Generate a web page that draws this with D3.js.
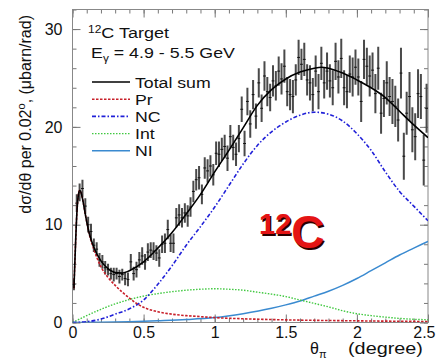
<!DOCTYPE html>
<html>
<head>
<meta charset="utf-8">
<script src="https://cdnjs.cloudflare.com/ajax/libs/d3/7.8.5/d3.min.js"></script>
<style>
    body { margin: 0; background: #fff; }
    svg { display: block; font-family: "Liberation Sans", Arial, Helvetica, sans-serif; }
    .axis path { display: none; }
    .axis line { stroke: #777; }
    .axis text { font-size: 16px; fill: #111; font-family: "Liberation Sans", Arial, sans-serif; }
</style>
</head>
<body>
<svg id="chart" width="436" height="361"></svg>
<script>
// data, 0.02 degree bins starting at 0
const binWidth = 0.02;
const counts = [
    3.9, 12.2, 13.3, 13.7, 11.9, 10.0, 9.3, 7.9, 7.5, 6.4,
    6.2, 5.6, 5.4, 5.0, 4.9, 5.0, 4.7, 4.9, 4.5, 4.4,
    6.2, 5.0, 5.4, 6.4, 6.8, 6.2, 7.2, 7.4, 7.3, 7.1,
    6.6, 8.0, 8.1, 9.5, 8.1, 8.1, 10.7, 11.0, 10.7, 11.2,
    10.9, 11.8, 13.4, 14.6, 14.8, 13.1, 15.8, 15.5, 16.0, 15.1,
    17.3, 17.2, 17.7, 18.0, 16.8, 19.0, 17.9, 17.2, 18.8, 21.8,
    18.3, 22.6, 20.3, 23.3, 21.1, 24.5, 21.9, 25.2, 23.6, 23.0,
    24.7, 24.2, 25.7, 24.9, 26.2, 23.6, 23.3, 23.1, 24.8, 27.1,
    26.4, 26.9, 24.8, 24.5, 23.3, 25.7, 23.6, 26.5, 24.5, 25.7,
    24.7, 24.0, 26.7, 25.1, 27.0, 24.0, 23.6, 25.4, 25.1, 26.1,
    25.1, 22.6, 26.9, 26.2, 25.2, 25.8, 23.4, 26.0, 21.4, 22.9,
    24.5, 23.1, 22.6, 22.1, 20.7, 25.5, 17.0, 21.4, 23.1, 19.7,
    19.0, 23.4, 23.1, 16.6, 21.9
];
const errors = [
    0.6, 0.9, 0.9, 0.9, 0.8, 0.8, 0.8, 0.7, 0.7, 0.7,
    0.7, 0.7, 0.6, 0.6, 0.7, 0.6, 0.7, 0.6, 0.7, 0.7,
    0.8, 0.7, 0.8, 0.8, 0.9, 0.8, 0.9, 0.8, 0.9, 0.8,
    0.9, 0.9, 1.0, 1.0, 0.9, 1.0, 1.0, 1.1, 1.0, 1.0,
    1.1, 1.0, 1.1, 1.1, 1.2, 1.0, 1.1, 1.2, 1.1, 1.1,
    1.2, 1.3, 1.2, 1.2, 1.3, 1.2, 1.3, 1.2, 1.4, 1.3,
    1.3, 1.4, 1.4, 1.5, 1.3, 1.5, 1.4, 1.5, 1.5, 1.4,
    1.6, 1.5, 1.5, 1.6, 1.7, 1.5, 1.6, 1.7, 1.6, 1.8,
    1.6, 1.7, 1.6, 1.8, 1.7, 1.6, 1.8, 1.7, 1.6, 1.9,
    1.7, 1.8, 1.9, 1.7, 2.0, 1.8, 1.7, 1.9, 2.0, 1.8,
    1.9, 2.1, 2.0, 1.9, 2.1, 1.8, 2.0, 2.2, 2.1, 1.9,
    2.2, 2.0, 2.3, 2.1, 2.2, 2.6, 2.4, 2.2, 2.5, 2.3,
    2.4, 2.5, 2.3, 2.6, 2.5
];

// model curves [theta, value]
const totalSum = [[0.01,3.5],[0.02,7.5],[0.03,11.0],[0.04,12.9],[0.05,13.5],[0.06,13.3],[0.07,12.7],[0.08,11.9],
    [0.1,10.3],[0.12,9.0],[0.15,7.7],[0.2,6.3],[0.25,5.5],[0.3,5.1],[0.35,5.05],[0.4,5.3],[0.5,6.2],[0.6,7.6],
    [0.7,9.2],[0.8,11.1],[0.9,13.1],[1.0,15.4],[1.1,17.6],[1.2,19.9],[1.3,22.2],[1.4,23.8],[1.5,24.9],[1.6,25.6],
    [1.7,26.0],[1.75,26.1],[1.8,26.0],[1.9,25.5],[2.0,24.8],[2.1,24.0],[2.2,23.0],[2.3,21.6],[2.4,20.2],[2.5,18.9]];
const pr = [[0.01,3.5],[0.02,7.5],[0.03,11.0],[0.04,12.9],[0.05,13.5],[0.06,13.3],[0.07,12.7],[0.08,11.9],
    [0.1,10.3],[0.12,8.9],[0.15,7.5],[0.2,5.7],[0.25,4.6],[0.3,3.8],[0.35,3.1],[0.4,2.5],[0.45,1.95],[0.5,1.55],
    [0.6,1.1],[0.7,0.85],[0.8,0.7],[0.9,0.6],[1.0,0.5],[1.2,0.38],[1.5,0.27],[2.0,0.17],[2.5,0.1]];
const nc = [[0,0],[0.1,0.08],[0.2,0.35],[0.3,0.85],[0.4,1.4],[0.5,2.3],[0.6,3.9],[0.7,5.8],[0.8,7.9],[0.9,9.8],
    [1.0,11.8],[1.1,14.0],[1.2,16.2],[1.3,18.1],[1.4,19.5],[1.5,20.5],[1.6,21.2],[1.7,21.5],[1.8,21.3],[1.9,20.6],
    [2.0,19.3],[2.1,17.6],[2.2,15.4],[2.3,13.4],[2.4,11.9],[2.5,10.4]];
const interf = [[0,0],[0.1,0.7],[0.2,1.35],[0.3,1.9],[0.4,2.35],[0.5,2.7],[0.6,2.95],[0.7,3.15],[0.8,3.3],[0.9,3.4],
    [1.0,3.45],[1.1,3.4],[1.2,3.3],[1.3,3.1],[1.4,2.9],[1.5,2.65],[1.6,2.3],[1.7,1.95],[1.8,1.6],[1.9,1.2],
    [2.0,0.9],[2.1,0.7],[2.2,0.55],[2.3,0.42],[2.4,0.33],[2.5,0.28]];
const ni = [[0,0],[0.2,0.02],[0.4,0.08],[0.6,0.18],[0.8,0.3],[1.0,0.5],[1.2,0.9],[1.4,1.45],[1.5,1.8],[1.6,2.2],
    [1.7,2.7],[1.8,3.2],[1.9,3.8],[2.0,4.5],[2.1,5.3],[2.2,6.1],[2.3,6.9],[2.4,7.6],[2.5,8.3]];

const xMajor = [0, 0.5, 1, 1.5, 2, 2.5];
const yMajor = [0, 10, 20, 30];

const series = [
    {name: "Total sum", data: totalSum, color: "#000", width: 1.6, dash: null},
    {name: "Pr", data: pr, color: "#c8202a", width: 1.6, dash: "2.5,1.5"},
    {name: "NC", data: nc, color: "#2020d8", width: 1.6, dash: "4,2,1.5,2"},
    {name: "Int", data: interf, color: "#3fc83f", width: 1.4, dash: "1.5,1.5"},
    {name: "NI", data: ni, color: "#3a8ad0", width: 1.5, dash: null}
];

const svg = d3.select("#chart");
const frame = {left: 72.5, right: 428, top: 9.5, bottom: 322.5};

const x = d3.scaleLinear().domain([0, 2.5]).range([frame.left, frame.right]);
const y = d3.scaleLinear().domain([0, 32]).range([frame.bottom, frame.top]);

// stretch a text horizontally so that it spans the given width
function stretchTo(textSel, width) {
    const w = textSel.node().getBBox().width;
    textSel.attr("transform", `scale(${width / w},1)`);
}

// clip for the plotting area
svg.append("defs").append("clipPath").attr("id", "plotclip")
    .append("rect").attr("x", frame.left).attr("y", frame.top)
    .attr("width", frame.right - frame.left).attr("height", frame.bottom - frame.top);

// ticks, root style (inside the frame)
const xAxisG = svg.append("g").attr("class", "axis").attr("transform", `translate(0,${frame.bottom})`)
    .call(d3.axisBottom(x).tickValues(xMajor).tickSize(-8).tickPadding(4).tickFormat(d3.format("")));
// last label sits on the page edge
xAxisG.selectAll(".tick text").filter(d => d === 2.5).attr("text-anchor", "end").attr("x", 7);
svg.append("g").attr("class", "axis").attr("transform", `translate(0,${frame.bottom})`)
    .call(d3.axisBottom(x).tickValues(d3.range(0, 2.51, 0.1)).tickSize(-4).tickFormat(""));
svg.append("g").attr("class", "axis").attr("transform", `translate(0,${frame.top})`)
    .call(d3.axisTop(x).tickValues(xMajor).tickSize(-8).tickFormat(""));
svg.append("g").attr("class", "axis").attr("transform", `translate(0,${frame.top})`)
    .call(d3.axisTop(x).tickValues(d3.range(0, 2.51, 0.1)).tickSize(-4).tickFormat(""));
svg.append("g").attr("class", "axis").attr("transform", `translate(${frame.left},0)`)
    .call(d3.axisLeft(y).tickValues(yMajor).tickSize(-8).tickPadding(10));
svg.append("g").attr("class", "axis").attr("transform", `translate(${frame.left},0)`)
    .call(d3.axisLeft(y).tickValues(d3.range(0, 32.1, 2)).tickSize(-4).tickFormat(""));
svg.append("g").attr("class", "axis").attr("transform", `translate(${frame.right},0)`)
    .call(d3.axisRight(y).tickValues(yMajor).tickSize(-8).tickFormat(""));
svg.append("g").attr("class", "axis").attr("transform", `translate(${frame.right},0)`)
    .call(d3.axisRight(y).tickValues(d3.range(0, 32.1, 2)).tickSize(-4).tickFormat(""));

svg.append("rect")
    .attr("x", frame.left).attr("y", frame.top)
    .attr("width", frame.right - frame.left).attr("height", frame.bottom - frame.top)
    .attr("fill", "none").attr("stroke", "#888").attr("stroke-width", 1);

const plot = svg.append("g").attr("clip-path", "url(#plotclip)");

// data points with error bars
const points = counts.map((v, i) => ({t: binWidth * i + binWidth / 2, v: v, e: errors[i]}));
const pts = plot.append("g");
pts.selectAll("line.err").data(points).enter().append("line")
    .attr("class", "err")
    .attr("x1", d => x(d.t)).attr("x2", d => x(d.t))
    .attr("y1", d => y(d.v - d.e)).attr("y2", d => y(d.v + d.e))
    .attr("stroke", "#4a4a4a").attr("stroke-width", 2);
pts.selectAll("line.mark").data(points).enter().append("line")
    .attr("class", "mark")
    .attr("x1", d => x(d.t - binWidth / 2)).attr("x2", d => x(d.t + binWidth / 2))
    .attr("y1", d => y(d.v)).attr("y2", d => y(d.v))
    .attr("stroke", "#111").attr("stroke-width", 1);

// model curves
const line = d3.line().x(d => x(d[0])).y(d => y(d[1])).curve(d3.curveMonotoneX);
series.slice().reverse().forEach(s => {
    plot.append("path")
        .datum(s.data)
        .attr("d", line)
        .attr("fill", "none")
        .attr("stroke", s.color)
        .attr("stroke-width", s.width)
        .attr("stroke-dasharray", s.dash);
});

// header text
const head1 = svg.append("g").attr("transform", "translate(88,38)")
    .attr("font-size", 15).attr("fill", "#111");
const t1 = head1.append("text");
t1.append("tspan").attr("font-size", 10).attr("dy", -5).text("12");
t1.append("tspan").attr("dy", 5).text("C Target");
stretchTo(t1, 82);
const head2 = svg.append("g").attr("transform", "translate(91,58)")
    .attr("font-size", 15).attr("fill", "#111");
const t2 = head2.append("text");
t2.append("tspan").text("E");
t2.append("tspan").attr("font-size", 10).attr("dy", 4).text("\u03b3");
t2.append("tspan").attr("dy", -4).text(" = 4.9 - 5.5 GeV");
stretchTo(t2, 144);

// legend
const legend = svg.append("g");
series.forEach((s, i) => {
    const ly = 82 + i * 17.2;
    legend.append("line")
        .attr("x1", 92).attr("x2", 130).attr("y1", ly).attr("y2", ly)
        .attr("stroke", s.color).attr("stroke-width", s.width)
        .attr("stroke-dasharray", s.dash);
    legend.append("g").attr("transform", `translate(135,${ly + 5.5})`)
        .append("text")
        .attr("font-size", 15).attr("fill", "#111")
        .attr("transform", "scale(1.18,1)")
        .text(s.name);
});

// big label
const big = svg.append("g").attr("font-weight", "bold");
[["#2a0000", 1.5], ["#e41414", 0]].forEach(([c, off]) => {
    const bt = big.append("text").attr("x", 259 + off).attr("y", 248 + off).attr("fill", c);
    bt.append("tspan").attr("font-size", 29).attr("dy", -14).text("12");
    bt.append("tspan").attr("font-size", 46).attr("dy", 14).text("C");
});

// axis titles
const yt = svg.append("text")
    .attr("transform", "translate(31,15) rotate(-90)")
    .attr("text-anchor", "end")
    .attr("font-size", 16).attr("fill", "#111");
yt.append("tspan").text("d\u03c3/d\u03b8 per 0.02");
yt.append("tspan").attr("font-size", 11).attr("dy", -6).text("o");
yt.append("tspan").attr("dy", 6).text(",  (\u03bcbarn/rad)");

const xt = svg.append("text").attr("x", 310).attr("y", 354)
    .attr("font-size", 16).attr("fill", "#111");
xt.append("tspan").text("\u03b8");
xt.append("tspan").attr("font-size", 11).attr("dy", 4).text("\u03c0");
const xt2 = svg.append("g").attr("transform", "translate(348,354)")
    .append("text").attr("font-size", 16).attr("fill", "#111").text("(degree)");
stretchTo(xt2, 75);
</script>
</body>
</html>
